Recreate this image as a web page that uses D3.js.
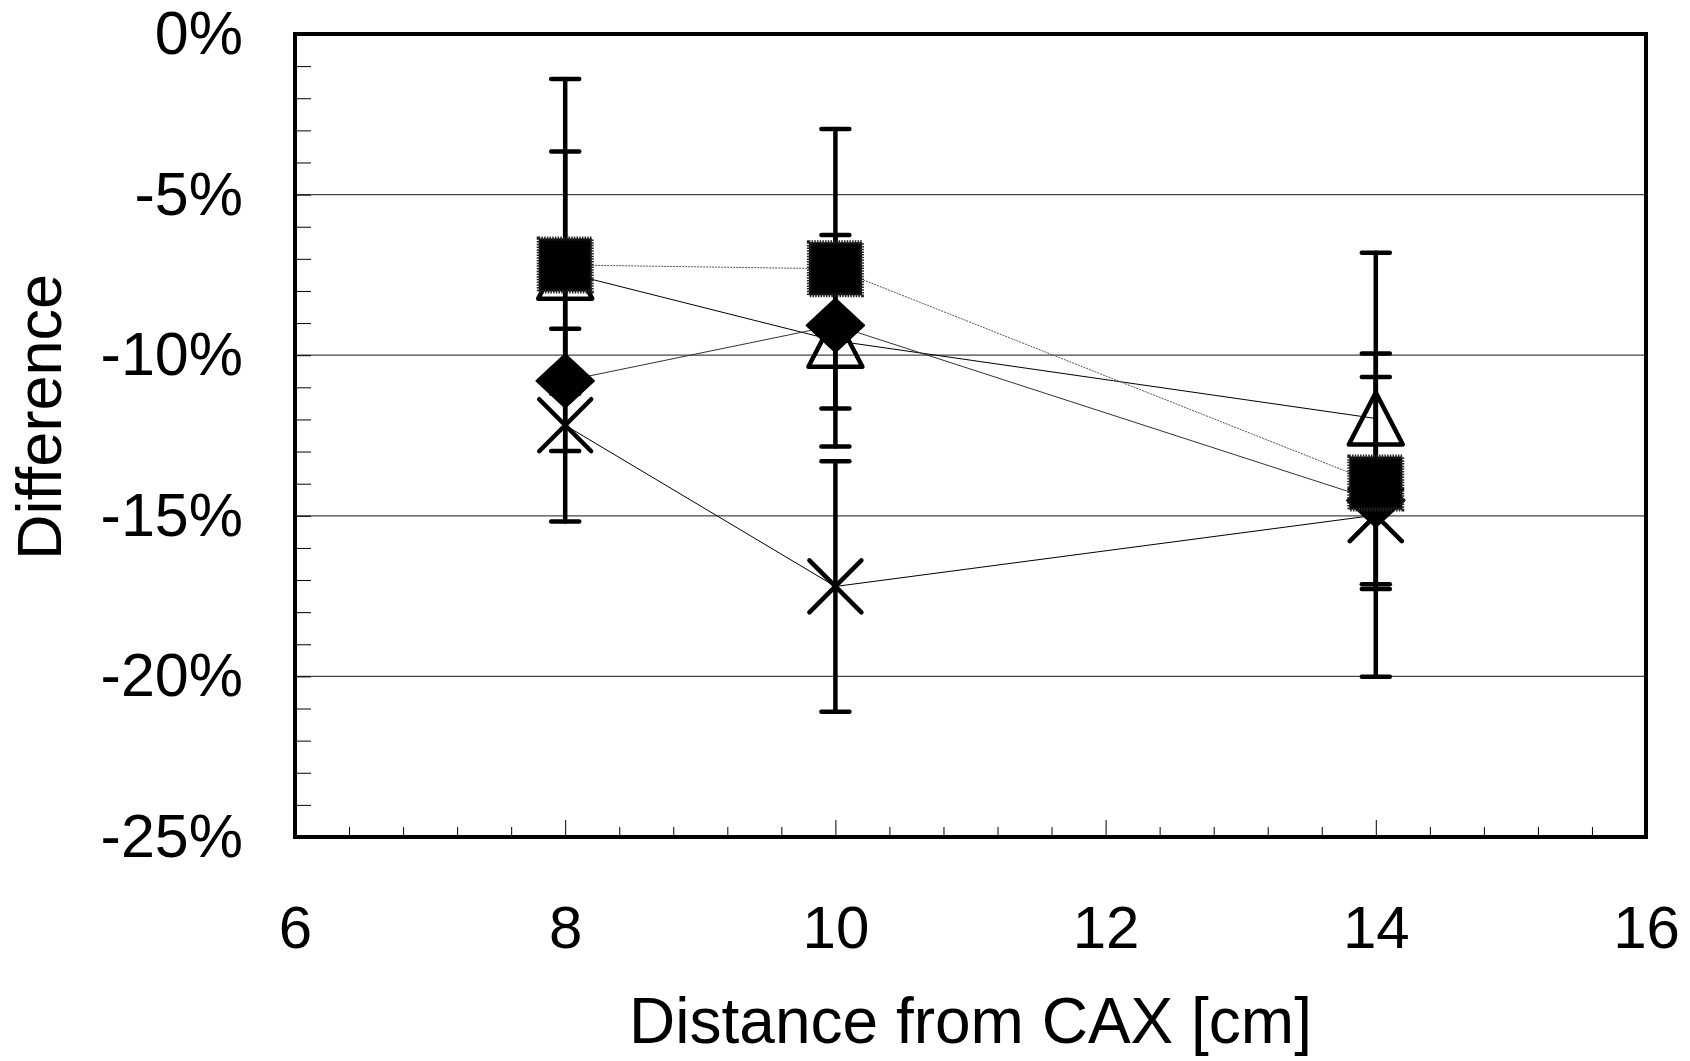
<!DOCTYPE html>
<html>
<head>
<meta charset="utf-8">
<script src="https://cdn.jsdelivr.net/npm/d3@7"></script>
<style>
    body { margin: 0; background: #fff; }
    svg { display: block; font-family: "Liberation Sans", Arial, sans-serif; }
</style>
</head>
<body>
<svg width="1690" height="1061"></svg>
<script>
// distances [cm]
var distances = [8, 10, 14];

// difference values [%] per series
var triangleVals = [-7.43, -9.55, -11.97];
var triangleErr  = [3.77, 3.29, 5.16];
var crossVals    = [-12.18, -17.2, -14.98];
var crossErr     = [3.0, 3.9, 5.03];
var diamondVals  = [-10.8, -9.07, -14.52];
var squareVals   = [-7.19, -7.31, -13.98];
var squareErr    = [5.79, 4.35, 3.3];

var yTickValues = [0, -5, -10, -15, -20, -25];
var xTickValues = [6, 8, 10, 12, 14, 16];

var svg = d3.select("svg"),
    plotLeft = 295, plotRight = 1646, plotTop = 34, plotBottom = 837;

var x = d3.scaleLinear().domain([6, 16]).range([plotLeft, plotRight]);
var y = d3.scaleLinear().domain([-25, 0]).range([plotBottom, plotTop]);

// gridlines
svg.append("g")
    .selectAll("line")
    .data([-5, -10, -15, -20])
    .enter().append("line")
    .attr("x1", plotLeft).attr("x2", plotRight)
    .attr("y1", function(d) { return y(d); })
    .attr("y2", function(d) { return y(d); })
    .style("stroke", "#444")
    .style("stroke-width", 1.2);

// minor ticks inside the frame
svg.append("g")
    .attr("transform", "translate(" + plotLeft + ",0)")
    .call(d3.axisRight(y).tickValues(d3.range(-24, 0, 1)).tickSize(16).tickFormat(""))
    .call(function(g) { g.select(".domain").remove(); })
    .selectAll("line").style("stroke", "#000").style("stroke-width", 1);

svg.append("g")
    .attr("transform", "translate(0," + plotBottom + ")")
    .call(d3.axisTop(x).tickValues(d3.range(6.4, 16, 0.4).filter(function(d) {
        return Math.abs(d / 2 - Math.round(d / 2)) > 0.01;
    })).tickSize(10).tickFormat(""))
    .call(function(g) { g.select(".domain").remove(); })
    .selectAll("line").style("stroke", "#000").style("stroke-width", 1);

svg.append("g")
    .attr("transform", "translate(0," + plotBottom + ")")
    .call(d3.axisTop(x).tickValues([8, 10, 12, 14]).tickSize(17).tickFormat(""))
    .call(function(g) { g.select(".domain").remove(); })
    .selectAll("line").style("stroke", "#000").style("stroke-width", 1);

// tick labels
svg.append("g")
    .attr("transform", "translate(" + plotLeft + ",0)")
    .call(d3.axisLeft(y).tickValues(yTickValues).tickSize(0).tickPadding(52)
        .tickFormat(function(d) { return d + "%"; }))
    .call(function(g) { g.select(".domain").remove(); })
    .selectAll("text")
    .style("font-family", "'Liberation Sans', Arial, sans-serif")
    .style("font-size", "61px")
    .style("fill", "#000");

svg.append("g")
    .attr("transform", "translate(0," + plotBottom + ")")
    .call(d3.axisBottom(x).tickValues(xTickValues).tickSize(0).tickPadding(68))
    .call(function(g) { g.select(".domain").remove(); })
    .selectAll("text")
    .style("font-family", "'Liberation Sans', Arial, sans-serif")
    .style("font-size", "60px")
    .style("fill", "#000");

// axis titles
svg.append("text")
    .attr("x", (plotLeft + plotRight) / 2)
    .attr("y", 1043)
    .attr("text-anchor", "middle")
    .style("font-size", "64px")
    .text("Distance from CAX [cm]");

svg.append("text")
    .attr("transform", "translate(61,417) rotate(-90)")
    .attr("text-anchor", "middle")
    .style("font-size", "63px")
    .text("Difference");

function pts(vals) {
    return vals.map(function(v, i) { return [distances[i], v]; });
}

var line = d3.line()
    .x(function(d) { return x(d[0]); })
    .y(function(d) { return y(d[1]); });

// series lines
svg.append("path").datum(pts(triangleVals)).attr("d", line)
    .style("fill", "none").style("stroke", "#000").style("stroke-width", 1);
svg.append("path").datum(pts(crossVals)).attr("d", line)
    .style("fill", "none").style("stroke", "#000").style("stroke-width", 1);
svg.append("path").datum(pts(diamondVals)).attr("d", line)
    .style("fill", "none").style("stroke", "#333").style("stroke-width", 1);
svg.append("path").datum(pts(squareVals)).attr("d", line)
    .style("fill", "none").style("stroke", "#555").style("stroke-width", 1)
    .style("stroke-dasharray", "2,1");

// error bars
function errorBars(vals, errs) {
    var g = svg.append("g")
        .style("stroke", "#000")
        .style("stroke-width", 4.5)
        .style("stroke-linecap", "round");
    var data = vals.map(function(v, i) { return { x: distances[i], v: v, e: errs[i] }; });
    g.selectAll(".bar").data(data).enter().append("line")
        .attr("x1", function(d) { return x(d.x); })
        .attr("x2", function(d) { return x(d.x); })
        .attr("y1", function(d) { return y(d.v + d.e); })
        .attr("y2", function(d) { return y(d.v - d.e); });
    [1, -1].forEach(function(s) {
        g.selectAll(".cap" + (s + 1)).data(data).enter().append("line")
            .attr("x1", function(d) { return x(d.x) - 14; })
            .attr("x2", function(d) { return x(d.x) + 14; })
            .attr("y1", function(d) { return y(d.v + s * d.e); })
            .attr("y2", function(d) { return y(d.v + s * d.e); });
    });
}
errorBars(triangleVals, triangleErr);
errorBars(crossVals, crossErr);
errorBars(squareVals, squareErr);

// markers
svg.append("g").selectAll("path")
    .data(pts(triangleVals)).enter().append("path")
    .attr("d", function(d) {
        var cx = x(d[0]), cy = y(d[1]);
        return "M" + cx + "," + (cy - 26) + "L" + (cx + 27) + "," + (cy + 26) + "L" + (cx - 27) + "," + (cy + 26) + "Z";
    })
    .style("fill", "none").style("stroke", "#000").style("stroke-width", 4.5)
    .style("stroke-linejoin", "round");

svg.append("g").selectAll("path")
    .data(pts(crossVals)).enter().append("path")
    .attr("d", function(d) {
        var cx = x(d[0]), cy = y(d[1]);
        return "M" + (cx - 26) + "," + (cy - 26) + "L" + (cx + 26) + "," + (cy + 26) +
            "M" + (cx + 26) + "," + (cy - 26) + "L" + (cx - 26) + "," + (cy + 26);
    })
    .style("fill", "none").style("stroke", "#000").style("stroke-width", 4.5)
    .style("stroke-linecap", "round");

svg.append("g").selectAll("path")
    .data(pts(diamondVals)).enter().append("path")
    .attr("d", function(d) {
        var cx = x(d[0]), cy = y(d[1]);
        return "M" + cx + "," + (cy - 27) + "L" + (cx + 29) + "," + cy + "L" + cx + "," + (cy + 27) + "L" + (cx - 29) + "," + cy + "Z";
    })
    .style("fill", "#000").style("stroke", "#000").style("stroke-width", 1.5)
    .style("stroke-linejoin", "round");

svg.append("g").selectAll("rect")
    .data(pts(squareVals)).enter().append("rect")
    .attr("x", function(d) { return x(d[0]) - 26.5; })
    .attr("y", function(d) { return y(d[1]) - 26.5; })
    .attr("width", 53)
    .attr("height", 53)
    .style("fill", "#000")
    .style("stroke", "#222")
    .style("stroke-width", 4)
    .style("stroke-dasharray", "1.5,1.2");

// frame
svg.append("rect")
    .attr("x", plotLeft).attr("y", plotTop)
    .attr("width", plotRight - plotLeft).attr("height", plotBottom - plotTop)
    .style("fill", "none").style("stroke", "#000").style("stroke-width", 4);
</script>
</body>
</html>
